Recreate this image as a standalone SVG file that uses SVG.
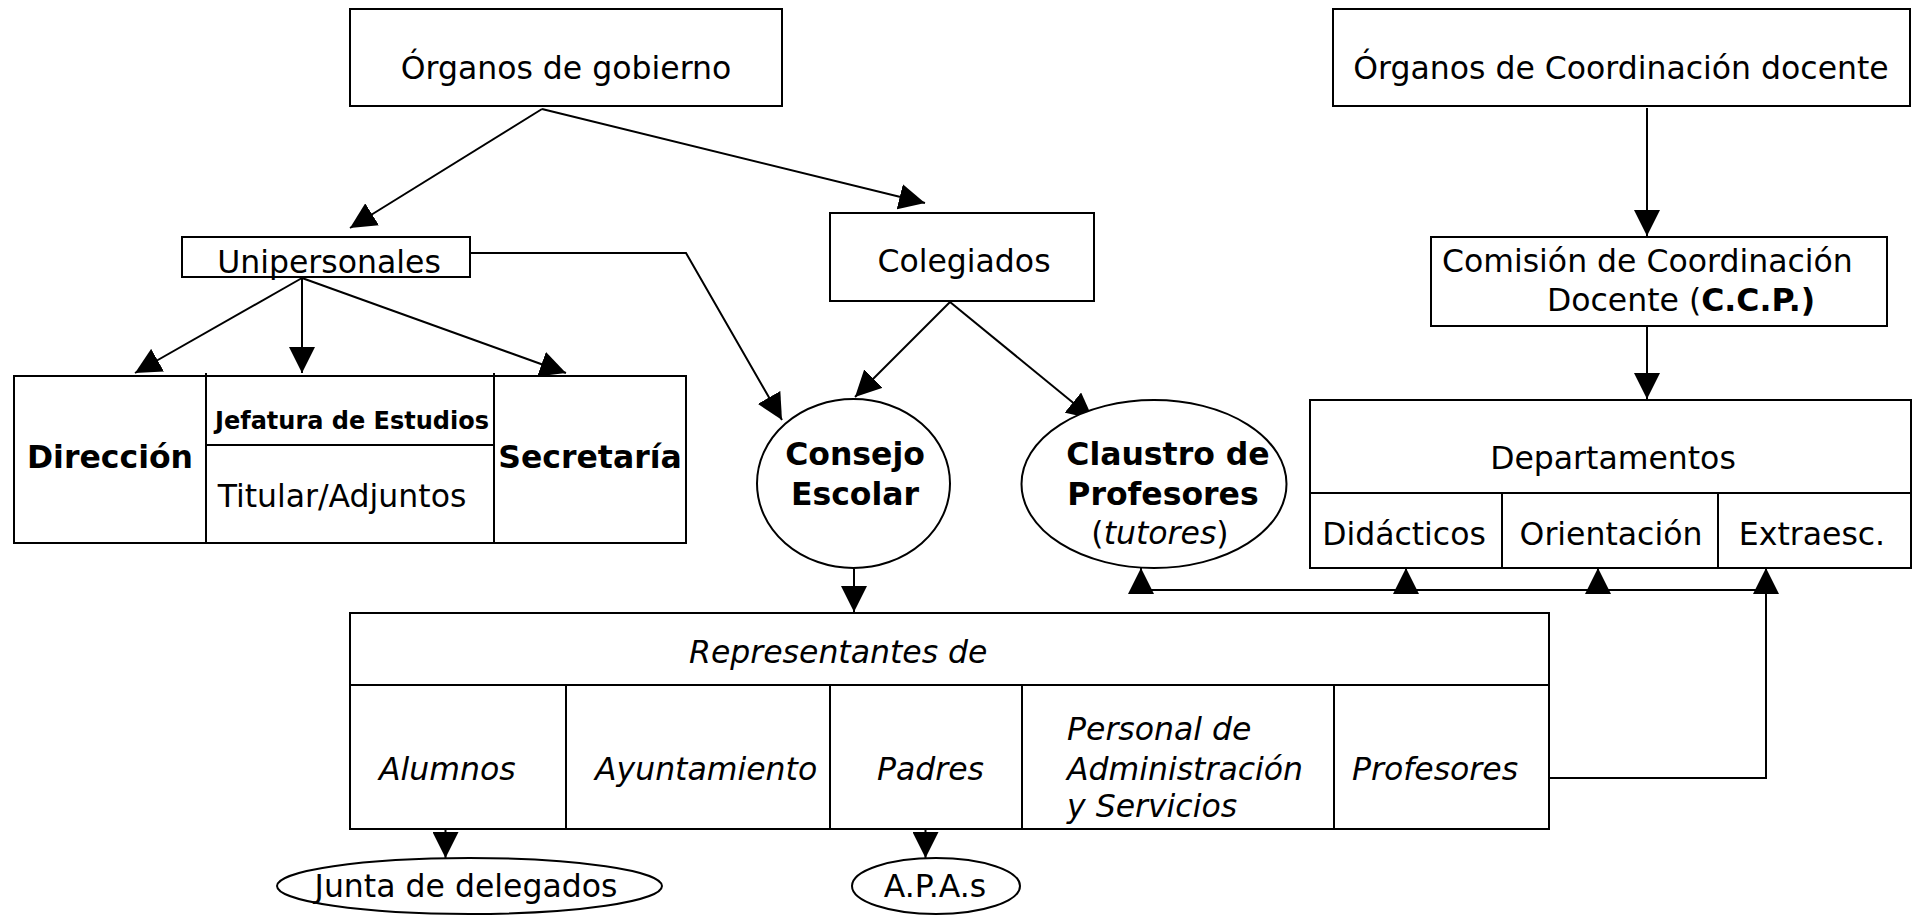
<svg xmlns="http://www.w3.org/2000/svg" width="1917" height="920" viewBox="0 0 1917 920">
<defs>
<marker id="ah" viewBox="0 0 26 26" markerWidth="26" markerHeight="26" refX="26" refY="13" orient="auto" markerUnits="userSpaceOnUse">
<path d="M0,0 L26,13 L0,26 Z" fill="#000"/>
</marker>
<style>
.box{fill:#fff;stroke:#000;stroke-width:2}
.ln{fill:none;stroke:#000;stroke-width:2}
.ar{fill:none;stroke:#000;stroke-width:2;marker-end:url(#ah)}
text{font-family:"DejaVu Sans","Liberation Sans",sans-serif;font-size:31.5px;fill:#000}
.c{text-anchor:middle}
.b{font-weight:bold}
.i{font-style:italic}
</style>
</defs>
<rect width="1917" height="920" fill="#fff"/>

<g id="connectors">
<line class="ar" x1="542" y1="109" x2="350" y2="228"/>
<line class="ar" x1="542" y1="109" x2="925" y2="203"/>
<line class="ar" x1="1647" y1="108" x2="1647" y2="236"/>
<line class="ar" x1="1647" y1="327" x2="1647" y2="399"/>
<line class="ar" x1="302" y1="278" x2="135" y2="373"/>
<line class="ar" x1="302" y1="278" x2="302" y2="373"/>
<line class="ar" x1="302" y1="278" x2="566" y2="373"/>
<polyline class="ar" points="470,253 686,253 782,420"/>
<line class="ar" x1="950" y1="302" x2="855" y2="397"/>
<line class="ar" x1="950" y1="302" x2="1093" y2="419"/>
<line class="ar" x1="854" y1="569" x2="854" y2="612"/>
<line class="ln" x1="1141" y1="590" x2="1766" y2="590"/>
<line class="ar" x1="1141" y1="590" x2="1141" y2="568"/>
<line class="ar" x1="1406" y1="590" x2="1406" y2="568"/>
<line class="ar" x1="1598" y1="590" x2="1598" y2="568"/>
<polyline class="ar" points="1549,778 1766,778 1766,568"/>
<line class="ar" x1="445.5" y1="830" x2="445.5" y2="858"/>
<line class="ar" x1="925.5" y1="830" x2="925.5" y2="858"/>
</g>

<g id="organos-gobierno">
<rect class="box" x="350" y="9" width="432" height="97"/>
<text class="c" x="566" y="79">Órganos de gobierno</text>
</g>

<g id="organos-coordinacion">
<rect class="box" x="1333" y="9" width="577" height="97"/>
<text class="c" x="1621" y="79">Órganos de Coordinación docente</text>
</g>

<g id="ccp">
<rect class="box" x="1431" y="237" width="456" height="89"/>
<text x="1442" y="272">Comisión de Coordinación</text>
<text x="1547" y="311">Docente (<tspan class="b">C.C.P.)</tspan></text>
</g>

<g id="departamentos">
<rect class="box" x="1310" y="400" width="601" height="168"/>
<line class="ln" x1="1310" y1="493" x2="1911" y2="493"/>
<line class="ln" x1="1502" y1="493" x2="1502" y2="568"/>
<line class="ln" x1="1718" y1="493" x2="1718" y2="568"/>
<text class="c" x="1613" y="469">Departamentos</text>
<text class="c" x="1404" y="545">Didácticos</text>
<text class="c" x="1611" y="545">Orientación</text>
<text class="c" x="1812" y="545">Extraesc.</text>
</g>

<g id="unipersonales">
<rect class="box" x="182" y="237" width="288" height="40"/>
<text class="c" x="329" y="273">Unipersonales</text>
</g>

<g id="colegiados">
<rect class="box" x="830" y="213" width="264" height="88"/>
<text class="c" x="964" y="272">Colegiados</text>
</g>

<g id="cargos">
<rect class="box" x="14" y="376" width="672" height="167"/>
<line class="ln" x1="206" y1="373" x2="206" y2="543"/>
<line class="ln" x1="494" y1="373" x2="494" y2="543"/>
<line class="ln" x1="206" y1="445" x2="494" y2="445"/>
<text class="c b" x="110" y="468">Dirección</text>
<text class="c b" x="352" y="429" style="font-size:24px">Jefatura de Estudios</text>
<text class="c" x="342" y="507">Titular/Adjuntos</text>
<text class="c b" x="590" y="468">Secretaría</text>
</g>

<g id="consejo-escolar">
<ellipse class="box" cx="853.5" cy="483.5" rx="96.5" ry="84.5"/>
<text class="c b" x="855" y="465">Consejo</text>
<text class="c b" x="855" y="505">Escolar</text>
</g>

<g id="claustro">
<ellipse class="box" cx="1154" cy="484" rx="132.5" ry="84"/>
<text class="c b" x="1168" y="465">Claustro de</text>
<text class="c b" x="1163" y="505">Profesores</text>
<text class="c" x="1160" y="544">(<tspan class="i">tutores</tspan>)</text>
</g>

<g id="representantes">
<rect class="box" x="350" y="613" width="1199" height="216"/>
<line class="ln" x1="350" y1="685" x2="1549" y2="685"/>
<line class="ln" x1="566" y1="685" x2="566" y2="829"/>
<line class="ln" x1="830" y1="685" x2="830" y2="829"/>
<line class="ln" x1="1022" y1="685" x2="1022" y2="829"/>
<line class="ln" x1="1334" y1="685" x2="1334" y2="829"/>
<text class="i" x="689" y="663">Representantes de</text>
<text class="i" x="379" y="780">Alumnos</text>
<text class="i" x="595" y="780">Ayuntamiento</text>
<text class="i" x="877" y="780">Padres</text>
<text class="i" x="1067" y="740">Personal de</text>
<text class="i" x="1067" y="780">Administración</text>
<text class="i" x="1067" y="817">y Servicios</text>
<text class="i" x="1352" y="780">Profesores</text>
</g>

<g id="junta-delegados">
<ellipse class="box" cx="469.5" cy="886" rx="192.5" ry="28"/>
<text class="c" x="466" y="897">Junta de delegados</text>
</g>

<g id="apas">
<ellipse class="box" cx="936" cy="886" rx="84" ry="28"/>
<text class="c" x="935" y="897">A.P.A.s</text>
</g>
</svg>
